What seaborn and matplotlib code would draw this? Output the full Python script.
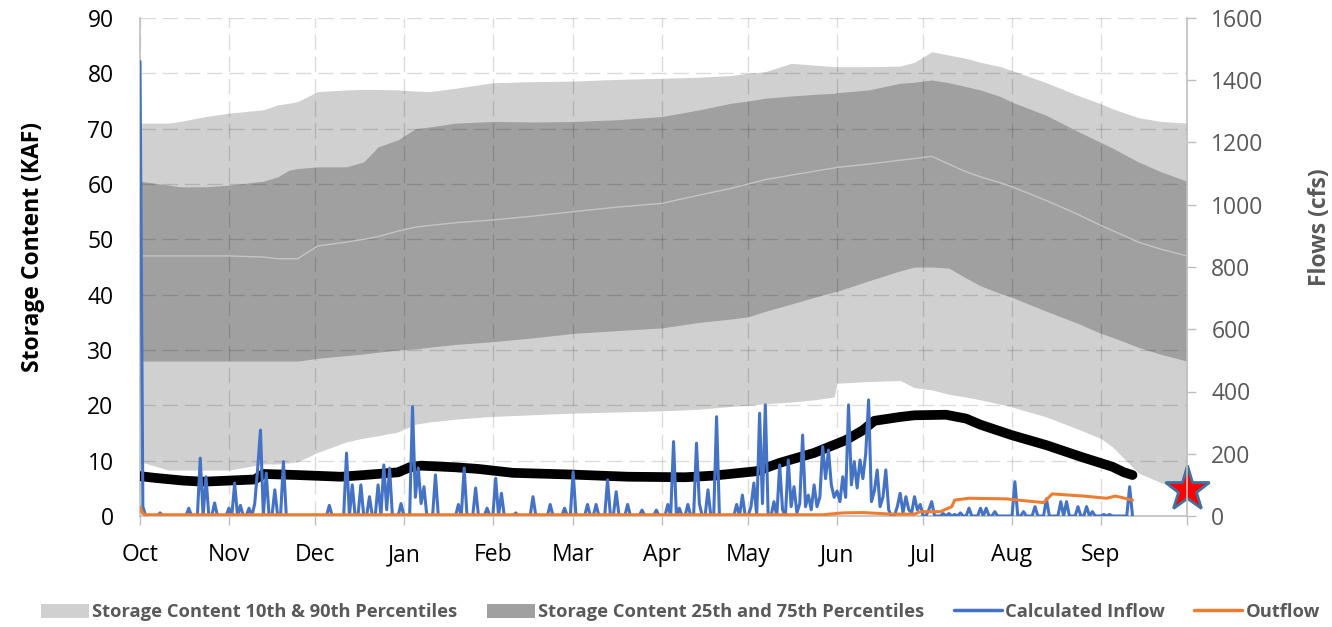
import matplotlib
matplotlib.use("Agg")
import matplotlib.pyplot as plt
from matplotlib.patches import Patch
from matplotlib.lines import Line2D
import numpy as np
import pandas as pd
import seaborn as sns

# ---- water-year calendar (day 0 = Oct 1) ----
month_labels = ["Oct", "Nov", "Dec", "Jan", "Feb", "Mar", "Apr", "May", "Jun",
                "Jul", "Aug", "Sep", ""]
month_start_day = [0, 31, 61, 92, 123, 151, 182, 212, 243, 273, 304, 335, 365]

# ---- historical storage percentiles (KAF) ----
band_day = [0, 10, 14, 23, 31, 43, 48, 52, 55, 62, 72, 78, 83, 90, 96, 101, 110,
            123, 137, 151, 166, 182, 195, 206, 212, 218, 227, 235, 242, 243, 254,
            265, 270, 276, 282, 288, 293, 300, 304, 316, 327, 335, 339, 348, 356, 365]
p90_kaf = [71, 71, 71.3, 72.2, 72.8, 73.4, 74.3, 74.6, 74.9, 76.7, 77, 77.1, 77.1,
           77, 76.8, 76.7, 77.3, 78.3, 78.5, 78.6, 78.9, 79.1, 79.3, 79.6, 80, 80.3,
           81.8, 81.5, 81.2, 81.2, 81.2, 81.3, 82, 83.9, 83.3, 82.7, 82, 81.2, 80.5,
           78.3, 76, 74.5, 73.6, 72, 71.3, 71]
p75_kaf = [60.5, 59.8, 59.5, 59.5, 59.8, 60.5, 61.3, 62.5, 62.8, 63.1, 63.1, 64,
           66.7, 68, 70, 70.3, 71, 71.3, 71.2, 71.3, 71.6, 72.2, 73.4, 74.6, 75,
           75.5, 75.9, 76.2, 76.4, 76.5, 77, 78.2, 78.4, 78.8, 78.3, 77.6, 77,
           75.8, 74.8, 72.4, 69.5, 67.5, 66.5, 64, 62.2, 60.5]
p50_kaf = [47, 47, 47, 47, 47, 46.8, 46.5, 46.5, 46.5, 48.8, 49.5, 50, 50.5, 51.5,
           52.2, 52.5, 53, 53.5, 54.2, 55, 55.8, 56.5, 58, 59.2, 60, 60.8, 61.6,
           62.3, 62.9, 63, 63.6, 64.3, 64.6, 65, 63.6, 62.2, 61.3, 60.2, 59.5, 57,
           54.5, 52.5, 51.6, 49.5, 48.2, 47]
p25_kaf = [28, 28, 28, 28, 28, 28, 28, 28, 28, 28.5, 29, 29.3, 29.6, 30, 30.2,
           30.5, 31, 31.5, 32.2, 33, 33.5, 34, 35, 35.6, 36, 37, 38.3, 39.5, 40.5,
           40.6, 42.5, 44.3, 45, 45, 44.8, 43, 41.6, 40.2, 39.5, 37, 34.8, 33,
           32.3, 30.5, 29.2, 28]
p10_kaf = [9.8, 8.3, 8.3, 8.3, 8.3, 9.4, 9.4, 9.6, 9.8, 11.5, 13.4, 14.1, 14.5,
           15.2, 16.6, 17, 17.5, 18, 18.3, 18.6, 18.8, 19, 19.3, 19.8, 20, 20.3,
           20.6, 21, 21.5, 24, 24.3, 24.5, 23.2, 22.8, 22, 21.5, 21, 20.2, 19.7,
           17.9, 15.7, 14, 12.5, 7.8, 6, 5.3]

# ---- current water year storage (KAF) ----
storage_day = [0, 5, 15, 22, 31, 40, 43, 55, 65, 70, 78, 90, 94, 98, 110, 118,
               130, 150, 170, 190, 200, 215, 223, 235, 246, 252, 256, 265, 270,
               281, 288, 293, 304, 316, 328, 339, 343, 346]
storage_kaf = [7.2, 6.9, 6.4, 6.2, 6.4, 6.6, 7.6, 7.4, 7.2, 7.1, 7.4, 7.9, 8.8,
               9.1, 8.8, 8.5, 7.8, 7.5, 7.1, 7.0, 7.3, 8.1, 9.6, 11.4, 13.7, 15.5,
               17.2, 17.9, 18.2, 18.3, 17.6, 16.5, 14.6, 12.8, 10.7, 8.9, 7.9, 7.4]

# end-of-year target storage
target_day = 365
target_kaf = 4.9

# ---- daily calculated inflow (cfs), Oct 1 onward ----
inflow_oct = [1460, 30, 0, 0, 0, 0, 0, 10, 0, 0, 0, 0, 0, 0, 0, 0, 0, 25, 0, 0, 0,
              186, 0, 126, 0, 0, 42, 0, 0, 0, 0]
inflow_nov = [25, 0, 106, 0, 34, 0, 0, 25, 0, 40, 150, 276, 0, 138, 0, 0, 84, 0, 0,
              175, 0, 0, 0, 0, 0, 0, 0, 0, 0, 0]
inflow_dec = [0, 0, 0, 0, 0, 34, 0, 0, 0, 0, 0, 202, 0, 100, 0, 0, 100, 0, 0, 62,
              0, 0, 100, 0, 164, 20, 154, 0, 0, 0, 40]
inflow_jan = [0, 0, 0, 351, 60, 154, 40, 94, 0, 0, 0, 132, 0, 0, 0, 0, 0, 0, 0, 37,
              0, 154, 0, 0, 0, 90, 0, 0, 0, 25, 0]
inflow_feb = [0, 121, 0, 73, 0, 0, 0, 0, 10, 0, 0, 0, 0, 0, 62, 0, 0, 0, 0, 0, 37,
              0, 0, 0, 0, 25, 0, 0]
inflow_mar = [142, 0, 0, 0, 0, 37, 0, 0, 37, 0, 0, 0, 116, 0, 0, 78, 0, 0, 0, 37,
              0, 0, 0, 0, 19, 0, 0, 0, 0, 19, 0]
inflow_apr = [0, 0, 37, 0, 239, 0, 25, 0, 0, 37, 0, 0, 234, 40, 0, 0, 84, 0, 0, 319,
              0, 0, 0, 0, 0, 0, 37, 0, 67, 0]
inflow_may = [0, 30, 106, 0, 330, 40, 357, 0, 0, 46, 0, 164, 20, 0, 180, 30, 94, 10,
              40, 260, 30, 67, 20, 100, 30, 60, 223, 120, 212, 100, 60]
inflow_jun = [80, 46, 126, 60, 357, 100, 175, 90, 180, 120, 200, 373, 46, 80, 148,
              30, 60, 148, 20, 0, 0, 30, 73, 10, 62, 20, 10, 62, 20, 37]
inflow_jul = [0, 0, 20, 46, 0, 0, 0, 8, 0, 8, 0, 5, 0, 10, 0, 0, 25, 0, 0, 0, 25, 0,
              25, 0, 0, 14, 0, 0, 0, 0, 0]
inflow_aug = [0, 110, 0, 0, 14, 0, 0, 0, 30, 0, 0, 0, 55, 0, 0, 0, 0, 46, 0, 46, 0,
              0, 0, 30, 0, 0, 30, 0, 14, 0, 0]
inflow_sep = [0, 5, 0, 5, 0, 0, 0, 0, 0, 0, 94, 0]

# ---- outflow (cfs) ----
outflow_day = [0, 1, 2, 238, 245, 252, 262, 270, 272, 279, 281, 283, 284, 289,
               302, 315, 318, 329, 337, 340, 342, 346]
outflow_cfs = [28, 8, 4, 4, 10, 11, 6, 6, 14, 14, 22, 30, 51, 57, 55, 43, 71, 64,
               57, 64, 60, 51]

# ---- colours ----
LIGHT_BAND = "#D0D0D0"
DARK_BAND = "#A0A0A0"
MEDIAN_LINE = "#C4C4C4"
INFLOW_BLUE = "#4472C4"
OUTFLOW_ORANGE = "#ED7D31"
SPINE_GRAY = "#BFBFBF"
TEXT_GRAY = "#595959"

inflow_cfs = (inflow_oct + inflow_nov + inflow_dec + inflow_jan + inflow_feb +
              inflow_mar + inflow_apr + inflow_may + inflow_jun + inflow_jul +
              inflow_aug + inflow_sep)
inflow = pd.DataFrame({"day": np.arange(len(inflow_cfs)), "cfs": inflow_cfs})
bands = pd.DataFrame({"day": band_day, "p10": p10_kaf, "p25": p25_kaf,
                      "p50": p50_kaf, "p75": p75_kaf, "p90": p90_kaf})
storage = pd.DataFrame({"day": storage_day, "kaf": storage_kaf})
outflow = pd.DataFrame({"day": outflow_day, "cfs": outflow_cfs})

sns.set_theme(style="white")
plt.rcParams["font.family"] = ["Open Sans", "DejaVu Sans"]

fig = plt.figure(figsize=(13.32, 6.27), dpi=100)
ax = fig.add_axes([140 / 1332, 1 - 516 / 627, 1047 / 1332, 498 / 627])

# percentile envelopes
ax.fill_between(bands["day"], bands["p10"], bands["p90"], color=LIGHT_BAND,
                linewidth=0, zorder=1)
ax.fill_between(bands["day"], bands["p25"], bands["p75"], color=DARK_BAND,
                linewidth=0, zorder=1.1)
sns.lineplot(data=bands, x="day", y="p50", ax=ax, color=MEDIAN_LINE,
             linewidth=1.0, zorder=2)

# current storage
sns.lineplot(data=storage, x="day", y="kaf", ax=ax, color="black",
             linewidth=7, solid_capstyle="round", solid_joinstyle="round",
             zorder=3)

ax.plot([target_day], [target_kaf], marker="*", markersize=34,
        markerfacecolor="red", markeredgecolor="#41719C", markeredgewidth=2,
        linestyle="none", clip_on=False, zorder=10)

ax.set_xlim(0, 365)
ax.set_ylim(0, 90)
ax.set_xticks(month_start_day)
ax.set_xticklabels(month_labels)
ax.set_yticks(np.arange(0, 91, 10))
ax.set_axisbelow("line")
ax.grid(True, color="black", alpha=0.14, linewidth=1.0, linestyle=(0, (11, 5)))

ax.tick_params(axis="x", bottom=True, direction="out", length=6.5, width=1,
               color=SPINE_GRAY, labelsize=16.5, labelcolor="black", pad=13)
ax.tick_params(axis="y", left=False, length=0, labelsize=16.5,
               labelcolor="black", pad=19)
for side in ("top", "right"):
    ax.spines[side].set_visible(False)
for side in ("left", "bottom"):
    ax.spines[side].set_color(SPINE_GRAY)
    ax.spines[side].set_linewidth(1.2)

ax.set_xlabel("")
ax.set_ylabel("Storage Content (KAF)", fontsize=16.5, fontweight="bold",
              color="black")
ax.yaxis.set_label_coords(-0.0907, 0.54)

# flows on the secondary axis
ax2 = ax.twinx()
sns.lineplot(data=inflow, x="day", y="cfs", ax=ax2, color=INFLOW_BLUE,
             linewidth=2.2)
sns.lineplot(data=outflow, x="day", y="cfs", ax=ax2, color=OUTFLOW_ORANGE,
             linewidth=2.2)
ax2.set_ylim(0, 1600)
ax2.set_yticks(np.arange(0, 1601, 200))
ax2.tick_params(axis="y", right=True, direction="out", length=6.5, width=1,
                color=SPINE_GRAY, labelsize=16.5, labelcolor=TEXT_GRAY, pad=11)
for side in ("top", "left", "bottom"):
    ax2.spines[side].set_visible(False)
ax2.spines["right"].set_color(SPINE_GRAY)
ax2.spines["right"].set_linewidth(1.2)
ax2.grid(False)
ax2.set_xlabel("")
ax2.set_ylabel("Flows (cfs)", fontsize=16.5, fontweight="bold", color=TEXT_GRAY)
ax2.yaxis.set_label_coords(1.116, 0.58)

handles = [
    Patch(facecolor=LIGHT_BAND, edgecolor="none"),
    Patch(facecolor=DARK_BAND, edgecolor="none"),
    Line2D([], [], color=INFLOW_BLUE, linewidth=2.5),
    Line2D([], [], color=OUTFLOW_ORANGE, linewidth=2.5),
]
labels = [
    "Storage Content 10th & 90th Percentiles",
    "Storage Content 25th and 75th Percentiles",
    "Calculated Inflow",
    "Outflow",
]
fig.legend(handles, labels, loc="center", bbox_to_anchor=(0.511, 0.024),
           ncol=4, frameon=False,
           prop={"family": ["Open Sans", "DejaVu Sans"], "weight": "bold",
                 "size": 13.2},
           labelcolor=TEXT_GRAY, handlelength=2.6, handleheight=0.8,
           handletextpad=0.2, columnspacing=1.6)

fig.savefig("out.png", dpi=100)
